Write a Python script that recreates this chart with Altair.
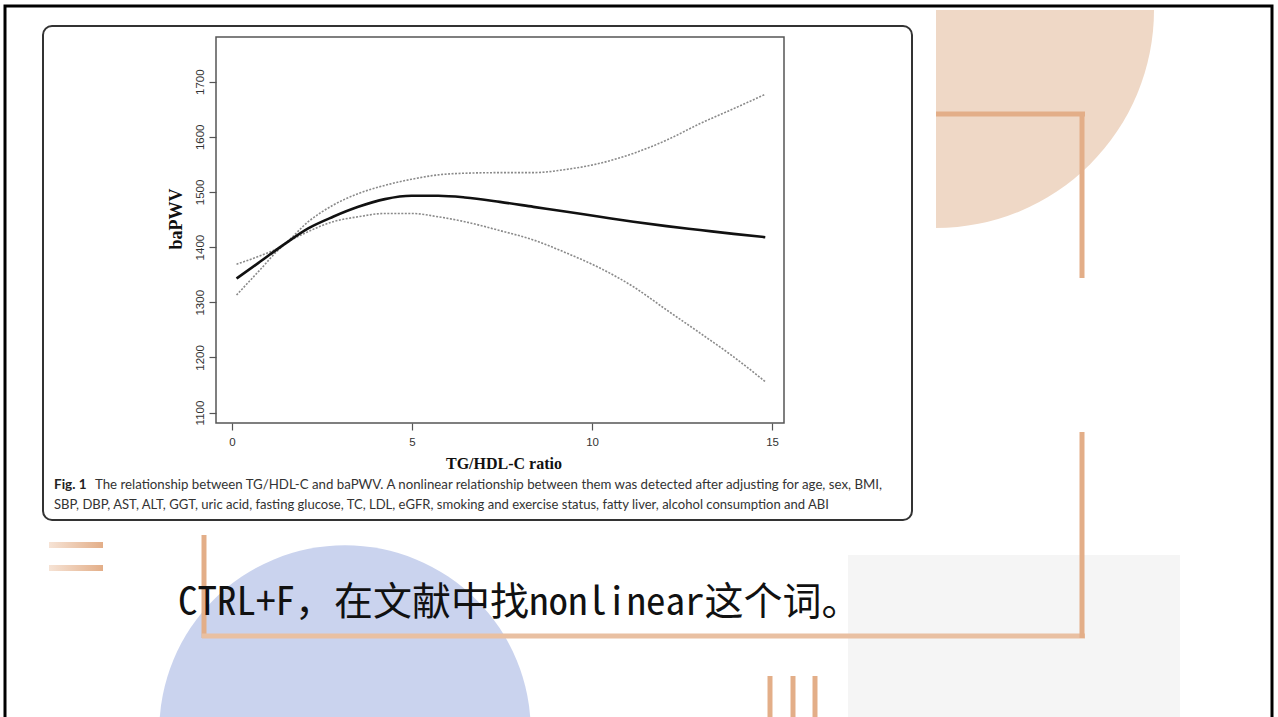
import altair as alt
import pandas as pd

# ---- data ----
tg_hdl_ratio = [0.13, 0.73, 1.43, 2.12, 2.81, 3.51, 4.25, 4.99, 5.73, 6.47,
                7.44, 8.37, 9.30, 10.22, 11.15, 12.07, 13.00, 13.93, 14.81]
bapwv_fit = [1343, 1371, 1404, 1434, 1455, 1473, 1487, 1493, 1493, 1490,
             1482, 1473, 1464, 1455, 1446, 1438, 1431, 1424, 1418]
bapwv_upper = [1369, 1383, 1404, 1446, 1476, 1497, 1512, 1523, 1531, 1534,
               1535, 1535, 1541, 1552, 1570, 1594, 1624, 1651, 1677]
bapwv_lower = [1313, 1355, 1403, 1428, 1446, 1455, 1461, 1461, 1455, 1446,
               1430, 1413, 1389, 1362, 1328, 1286, 1244, 1201, 1156]
x_ticks = [0, 5, 10, 15]
y_ticks = [1100, 1200, 1300, 1400, 1500, 1600, 1700]

x_title = "TG/HDL-C ratio"
y_title = "baPWV"
caption_bold = "Fig. 1"
caption_1 = ("The relationship between TG/HDL-C and baPWV. A nonlinear relationship "
             "between them was detected after adjusting for age, sex, BMI,")
caption_2 = ("SBP, DBP, AST, ALT, GGT, uric acid, fasting glucose, TC, LDL, eGFR, "
             "smoking and exercise status, fatty liver, alcohol consumption and ABI")
slide_text = "CTRL+F，在文献中找nonlinear这个词。"

df = pd.DataFrame({"ratio": tg_hdl_ratio, "fit": bapwv_fit,
                   "upper": bapwv_upper, "lower": bapwv_lower})
one = pd.DataFrame({"k": [0]})

# plot area placement on the page
L, T, W, H = 216, 37, 568, 386
def px(v):
    return alt.value(v - L)
def py(v):
    return alt.value(v - T)

xs = alt.Scale(domain=[-0.44, 15.33], nice=False, zero=False)
ys = alt.Scale(domain=[1081, 1781], nice=False, zero=False)

x_axis = alt.Axis(
    values=x_ticks, title=None, grid=False, domain=False, tickColor="#555",
    tickSize=7, tickWidth=1.2, labelFont="Liberation Sans", labelFontSize=11.5,
    labelColor="#333", labelPadding=6, format="d")
y_axis = alt.Axis(values=y_ticks, title=None, grid=False, domain=False,
                  tickColor="#555", tickSize=7, tickWidth=1.2,
                  labelFont="Liberation Sans", labelFontSize=11.5,
                  labelColor="#333", labelAngle=270, labelAlign="center",
                  labelBaseline="bottom", labelPadding=4, format="d")

def x_enc():
    return alt.X("ratio:Q", scale=xs, axis=x_axis)

def y_enc(field):
    return alt.Y(f"{field}:Q", scale=ys, axis=y_axis)

ORANGE = "#E3AE88"

# ---- slide decoration ----
peach = alt.Chart(one).mark_arc(color="#EFD8C6", theta=1.5708, theta2=3.1416,
                                radius=218).encode(x=px(936), y=py(10))
blue = alt.Chart(one).mark_circle(color="#CAD3EE", opacity=1, size=138000).encode(
    x=px(345), y=py(731))
gray_box = alt.Chart(one).mark_rect(color="#F5F5F5").encode(
    x=px(848), x2=px(1180), y=py(555), y2=py(717))

def rule(x1, y1, x2, y2, w=5, color=ORANGE):
    return alt.Chart(one).mark_rule(color=color, strokeWidth=w).encode(
        x=px(x1), x2=px(x2), y=py(y1), y2=py(y2))

grad = alt.Gradient(gradient="linear", x1=0, x2=1, y1=0, y2=0,
                    stops=[alt.GradientStop(color="#F6E3D5", offset=0),
                           alt.GradientStop(color="#E3AE88", offset=1)])
short1 = alt.Chart(one).mark_rect(color=grad).encode(
    x=px(49), x2=px(103), y=py(542), y2=py(548))
short2 = alt.Chart(one).mark_rect(color=grad).encode(
    x=px(49), x2=px(103), y=py(565), y2=py(571))

deco = [peach, blue, gray_box,
        rule(936, 114, 1085, 114), rule(1082, 112, 1082, 278),
        rule(204, 535, 204, 638), rule(202, 636, 1085, 636, color="#E9C0A2"),
        rule(1082, 432, 1082, 638),
        rule(770, 676, 770, 717), rule(793, 676, 793, 717), rule(815, 676, 815, 717),
        short1, short2]

slide_border = alt.Chart(one).mark_rect(fillOpacity=0, stroke="#000",
                                        strokeWidth=3).encode(
    x=px(5), x2=px(1272), y=py(6), y2=py(725))
panel = alt.Chart(one).mark_rect(fillOpacity=0, stroke="#333", strokeWidth=2,
                                 cornerRadius=9).encode(
    x=px(43), x2=px(912), y=py(26), y2=py(520))

# ---- the figure ----
upper = alt.Chart(df).mark_line(color="#8a8a8a", strokeWidth=1.6,
                                strokeDash=[2, 1.5], interpolate="monotone").encode(
    x=x_enc(), y=y_enc("upper"))
lower = alt.Chart(df).mark_line(color="#8a8a8a", strokeWidth=1.6,
                                strokeDash=[2, 1.5], interpolate="monotone").encode(
    x=x_enc(), y=y_enc("lower"))
fit = alt.Chart(df).mark_line(color="#111", strokeWidth=2.6,
                              interpolate="monotone").encode(
    x=x_enc(), y=y_enc("fit"))

def txt(s, x, y, size, font, weight="normal", color="#333", align="left", angle=0):
    kw = dict(text=s, fontSize=size, font=font, fontWeight=weight, color=color,
              align=align, baseline="middle")
    if angle:
        kw["angle"] = angle
    return alt.Chart(one).mark_text(**kw).encode(x=px(x), y=py(y))

texts = [
    txt(x_title, 504, 464, 16, "Liberation Serif", "bold", "#111", "center"),
    txt(y_title, 177, 219, 18, "Liberation Serif", "bold", "#111", "center", 270),
    txt(caption_bold, 54, 485, 13.5, "Lato", "bold", "#222"),
    txt(caption_1, 95, 485, 13.25, "Lato", "normal", "#333"),
    txt(caption_2, 54, 505, 13.05, "Lato", "normal", "#333"),
    txt(slide_text, 178, 603, 39, "Noto Sans Mono CJK SC, Noto Sans CJK SC",
        "normal", "#111"),
]

chart = alt.layer(*deco, slide_border, panel, upper, lower, fit, *texts).properties(
    width=W, height=H,
    autosize=alt.AutoSizeParams(type="none"),
    padding={"left": L, "top": T, "right": 1278 - L - W, "bottom": 717 - T - H},
    background="white",
).configure_view(stroke="#555", strokeWidth=1.5)

chart.save("out.html", embed_options={"renderer": "svg", "actions": False})
